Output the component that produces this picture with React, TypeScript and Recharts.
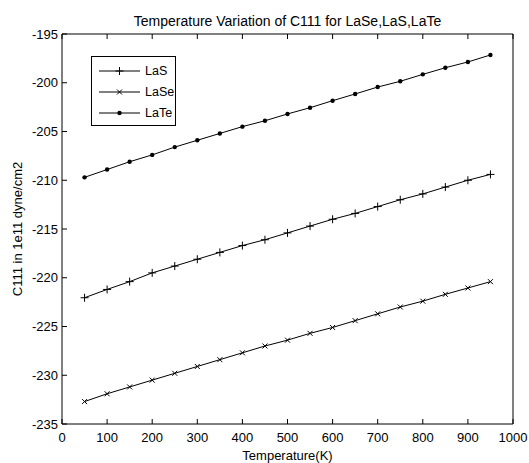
import { LineChart, Line, XAxis, YAxis, Legend } from 'recharts';

const temps = [50, 100, 150, 200, 250, 300, 350, 400, 450, 500, 550, 600, 650, 700, 750, 800, 850, 900, 950];
const las = [-222.05, -221.2, -220.4, -219.5, -218.8, -218.1, -217.4, -216.7, -216.1, -215.4, -214.7, -214.0, -213.4, -212.7, -212.0, -211.4, -210.7, -210.0, -209.4];
const lase = [-232.7, -231.9, -231.2, -230.5, -229.8, -229.1, -228.4, -227.7, -227.0, -226.4, -225.7, -225.1, -224.4, -223.7, -223.0, -222.4, -221.7, -221.05, -220.4];
const late = [-209.7, -208.9, -208.1, -207.4, -206.6, -205.9, -205.2, -204.5, -203.9, -203.2, -202.56, -201.84, -201.15, -200.44, -199.85, -199.14, -198.46, -197.87, -197.15];

const xTicks = [0, 100, 200, 300, 400, 500, 600, 700, 800, 900, 1000];
const yTicks = [-235, -230, -225, -220, -215, -210, -205, -200, -195];
const seriesNames = ['LaS', 'LaSe', 'LaTe'];

const data = temps.map((t, i) => ({ t, LaS: las[i], LaSe: lase[i], LaTe: late[i] }));

const FONT = '"Liberation Sans", Arial, sans-serif';
const INK = '#000';

const PlusMark = ({ cx, cy }: any) => (
  <path d={`M${cx - 4},${cy}h8M${cx},${cy - 4}v8`} stroke={INK} strokeWidth={1} fill="none" />
);
const CrossMark = ({ cx, cy }: any) => (
  <path d={`M${cx - 2.5},${cy - 2.5}l5,5M${cx + 2.5},${cy - 2.5}l-5,5`} stroke={INK} strokeWidth={1} fill="none" />
);
const DotMark = ({ cx, cy }: any) => <circle cx={cx} cy={cy} r={2.2} fill={INK} />;

const markers: Record<string, any> = { LaS: PlusMark, LaSe: CrossMark, LaTe: DotMark };

// ticks point inward like matlab; label only on bottom / left
const BottomTick = ({ x, y, payload }: any) => (
  <g>
    <line x1={x} y1={y} x2={x} y2={y - 5} stroke={INK} />
    <text x={x} y={y + 18} textAnchor="middle" fontSize={13} fontFamily={FONT} fill={INK}>
      {payload.value}
    </text>
  </g>
);
const TopTick = ({ x, y }: any) => <line x1={x} y1={y} x2={x} y2={y + 5} stroke={INK} />;
const LeftTick = ({ x, y, payload }: any) => (
  <g>
    <line x1={x} y1={y} x2={x + 5} y2={y} stroke={INK} />
    <text x={x - 4} y={y + 4.5} textAnchor="end" fontSize={13} fontFamily={FONT} fill={INK}>
      {payload.value}
    </text>
  </g>
);
const RightTick = ({ x, y }: any) => <line x1={x} y1={y} x2={x - 5} y2={y} stroke={INK} />;

const LegendBox = () => (
  <div
    style={{
      border: '1px solid #000',
      background: '#fff',
      width: 85,
      height: 70,
      boxSizing: 'border-box',
      paddingTop: 3,
      fontFamily: FONT,
      fontSize: 12.5,
    }}
  >
    {seriesNames.map((name) => {
      const M = markers[name];
      return (
        <div key={name} style={{ display: 'flex', alignItems: 'center', height: 21 }}>
          <svg width={50} height={12} style={{ marginLeft: 6 }}>
            <line x1={1} y1={6} x2={42} y2={6} stroke={INK} />
            <M cx={21.5} cy={6} />
          </svg>
          <span style={{ marginLeft: -3 }}>{name}</span>
        </div>
      );
    })}
  </div>
);

export default function App() {
  return (
    <div style={{ position: 'relative', width: 529, height: 463, background: '#fff', fontFamily: FONT }}>
      <style>{'body{margin:0}'}</style>
      <div
        style={{
          position: 'absolute',
          left: 62,
          width: 451,
          top: 13,
          textAlign: 'center',
          fontSize: 14,
          color: INK,
        }}
      >
        Temperature Variation of C111 for LaSe,LaS,LaTe
      </div>
      <div
        style={{
          position: 'absolute',
          left: 62,
          width: 451,
          top: 448,
          textAlign: 'center',
          fontSize: 13,
          color: INK,
        }}
      >
        Temperature(K)
      </div>
      <div
        style={{
          position: 'absolute',
          left: 17,
          top: 229,
          transform: 'translate(-50%, -50%) rotate(-90deg)',
          whiteSpace: 'nowrap',
          fontSize: 13,
          color: INK,
        }}
      >
        C111 in 1e11 dyne/cm2
      </div>
      <LineChart
        width={529}
        height={463}
        data={data}
        margin={{ top: 33, right: 15, bottom: 38, left: 61 }}
      >
        <XAxis
          dataKey="t"
          type="number"
          domain={[0, 1000]}
          ticks={xTicks}
          interval={0}
          height={1}
          tickSize={0}
          tickMargin={0}
          tickLine={false}
          axisLine={{ stroke: INK }}
          tick={<BottomTick />}
        />
        <XAxis
          xAxisId="top"
          orientation="top"
          dataKey="t"
          type="number"
          domain={[0, 1000]}
          ticks={xTicks}
          interval={0}
          height={1}
          tickSize={0}
          tickMargin={0}
          tickLine={false}
          axisLine={{ stroke: INK }}
          tick={<TopTick />}
        />
        <YAxis
          type="number"
          domain={[-235, -195]}
          ticks={yTicks}
          interval={0}
          width={1}
          tickSize={0}
          tickMargin={0}
          tickLine={false}
          axisLine={{ stroke: INK }}
          tick={<LeftTick />}
        />
        <YAxis
          yAxisId="right"
          orientation="right"
          type="number"
          domain={[-235, -195]}
          ticks={yTicks}
          interval={0}
          width={1}
          tickSize={0}
          tickMargin={0}
          tickLine={false}
          axisLine={{ stroke: INK }}
          tick={<RightTick />}
        />
        <Legend
          layout="horizontal"
          verticalAlign="middle"
          align="center"
          content={<LegendBox />}
          wrapperStyle={{ position: 'absolute', left: 91, top: 56, width: 85, height: 70 }}
        />
        {seriesNames.map((name) => {
          const M = markers[name];
          return (
            <Line
              key={name}
              dataKey={name}
              stroke={INK}
              strokeWidth={1}
              type="linear"
              isAnimationActive={false}
              dot={(p: any) => <M key={p.index} cx={p.cx} cy={p.cy} />}
              activeDot={false}
            />
          );
        })}
      </LineChart>
    </div>
  );
}
